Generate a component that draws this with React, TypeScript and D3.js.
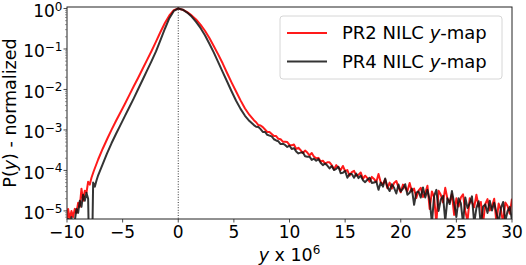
import { useEffect, useRef } from "react";
import * as d3 from "d3";

// tick values
const xTicks = [-10, -5, 0, 5, 10, 15, 20, 25, 30];
const yTickExps = [0, -1, -2, -3, -4, -5];

const seriesLabels = ["PR2 NILC", "PR4 NILC"];
const seriesColors = ["#ff1a1a", "#111111"];

// [y x 1e6, log10 P(y)]; -7 marks an empty bin
const pr2LogP: [number, number][] = [
  [-10.0, -5.3], [-9.9, -4.95], [-9.75, -5.2], [-9.6, -5.0], [-9.45, -5.15], [-9.3, -4.95],
  [-9.15, -5.05], [-9.0, -4.8], [-8.85, -4.9], [-8.7, -4.45], [-8.55, -4.75], [-8.4, -4.5],
  [-8.25, -4.55], [-8.1, -4.28], [-7.95, -4.35], [-7.8, -4.18], [-7.6, -4.02], [-7.2, -3.73],
  [-6.8, -3.47], [-6.4, -3.23], [-6.0, -3.0], [-5.6, -2.78], [-5.2, -2.57], [-4.8, -2.36],
  [-4.4, -2.14], [-4.0, -1.92], [-3.6, -1.71], [-3.2, -1.49], [-2.8, -1.27], [-2.4, -1.05],
  [-2.0, -0.82], [-1.6, -0.58], [-1.2, -0.36], [-0.8, -0.17], [-0.4, -0.04], [0, 0],
  [0.4, -0.03], [0.8, -0.09], [1.2, -0.17], [1.6, -0.27], [2.0, -0.4], [2.4, -0.55],
  [2.8, -0.73], [3.2, -0.93], [3.6, -1.14], [4.0, -1.36], [4.4, -1.6], [4.8, -1.83],
  [5.2, -2.05], [5.6, -2.27], [6.0, -2.47], [6.4, -2.63], [6.8, -2.76],
  [7.0, -2.81], [7.2, -2.88], [7.4, -2.89], [7.6, -2.93], [7.8, -2.99], [8.0, -3.05],
  [8.2, -3.05], [8.4, -3.1], [8.6, -3.15], [8.8, -3.15], [9.0, -3.22], [9.2, -3.23],
  [9.4, -3.29], [9.6, -3.29], [9.8, -3.3], [10.0, -3.37], [10.2, -3.38], [10.4, -3.36],
  [10.6, -3.47], [10.8, -3.44], [11.0, -3.5], [11.2, -3.57], [11.4, -3.51], [11.6, -3.56],
  [11.8, -3.63], [12.0, -3.57], [12.2, -3.66], [12.4, -3.7], [12.6, -3.69], [12.8, -3.78],
  [13.0, -3.76], [13.2, -3.83], [13.4, -3.8], [13.6, -3.8], [13.8, -3.87], [14.0, -3.97],
  [14.2, -3.87], [14.4, -3.93], [14.6, -3.99], [14.8, -3.89], [15.0, -4.02], [15.2, -3.99],
  [15.4, -4.13], [15.6, -4.04], [15.8, -4.01], [16.0, -4.13], [16.2, -4.11], [16.4, -4.05],
  [16.6, -4.21], [16.8, -4.13], [17.0, -4.19], [17.2, -4.28], [17.4, -4.16], [17.6, -4.21],
  [17.8, -4.29], [18.0, -4.09], [18.2, -4.29], [18.4, -4.34], [18.6, -4.22], [18.8, -4.44],
  [19.0, -4.3], [19.2, -4.45], [19.4, -4.31], [19.6, -4.26], [19.8, -4.42], [20.0, -4.54],
  [20.2, -4.35], [20.4, -4.43], [20.6, -4.51], [20.8, -4.31], [21.0, -4.52], [21.2, -4.45],
  [21.4, -4.68], [21.6, -4.5], [21.8, -4.43], [22.0, -4.66], [22.2, -4.56], [22.4, -4.38],
  [22.6, -4.95], [22.8, -4.52], [23.0, -4.66], [23.2, -5.3], [23.4, -4.5], [23.6, -4.6],
  [23.8, -4.79], [24.0, -4.43], [24.2, -4.71], [24.4, -4.78], [24.6, -4.59], [24.8, -5.1],
  [25.0, -4.69], [25.2, -4.89], [25.4, -4.67], [25.6, -4.59], [25.8, -5.0], [26.0, -5.25],
  [26.2, -4.69], [26.4, -4.79], [26.6, -4.91], [26.8, -4.6], [27.0, -4.89], [27.2, -4.78],
  [27.4, -5.3], [27.6, -4.83], [27.8, -4.71], [28.0, -4.99], [28.2, -4.89], [28.4, -4.7],
  [28.6, -5.3], [28.8, -4.82], [29.0, -4.96], [29.2, -5.3], [29.4, -4.79], [29.6, -4.88],
  [29.8, -5.07], [30.0, -4.7],
];

const pr4LogP: [number, number][] = [
  [-10.0, -7], [-9.9, -5.2], [-9.75, -7], [-9.6, -5.15], [-9.45, -7], [-9.3, -5.25],
  [-9.15, -4.95], [-9.0, -5.05], [-8.85, -4.75], [-8.7, -4.9], [-8.55, -4.6], [-8.4, -4.75],
  [-8.25, -4.55], [-8.1, -4.7], [-7.95, -7], [-7.8, -7], [-7.65, -4.3], [-7.5, -4.4],
  [-7.35, -4.25], [-7.2, -4.12], [-6.8, -3.85], [-6.4, -3.58], [-6.0, -3.33], [-5.6, -3.1],
  [-5.2, -2.88], [-4.8, -2.66], [-4.4, -2.44], [-4.0, -2.22], [-3.6, -1.99], [-3.2, -1.76],
  [-2.8, -1.53], [-2.4, -1.3], [-2.0, -1.06], [-1.6, -0.78], [-1.2, -0.5], [-0.8, -0.24],
  [-0.4, -0.06], [0, 0],
  [0.4, -0.03], [0.8, -0.1], [1.2, -0.2], [1.6, -0.33], [2.0, -0.48], [2.4, -0.66],
  [2.8, -0.87], [3.2, -1.09], [3.6, -1.33], [4.0, -1.57], [4.4, -1.81], [4.8, -2.05],
  [5.2, -2.28], [5.6, -2.48], [6.0, -2.65], [6.4, -2.78], [6.8, -2.88],
  [7.0, -2.92], [7.2, -2.93], [7.4, -2.98], [7.6, -3.05], [7.8, -3.05], [8.0, -3.12],
  [8.2, -3.14], [8.4, -3.16], [8.6, -3.23], [8.8, -3.26], [9.0, -3.28], [9.2, -3.35],
  [9.4, -3.34], [9.6, -3.37], [9.8, -3.42], [10.0, -3.39], [10.2, -3.47], [10.4, -3.45],
  [10.6, -3.53], [10.8, -3.58], [11.0, -3.56], [11.2, -3.55], [11.4, -3.65], [11.6, -3.66],
  [11.8, -3.66], [12.0, -3.74], [12.2, -3.71], [12.4, -3.76], [12.6, -3.72], [12.8, -3.81],
  [13.0, -3.87], [13.2, -3.83], [13.4, -3.88], [13.6, -3.95], [13.8, -3.89], [14.0, -3.99],
  [14.2, -3.96], [14.4, -3.91], [14.6, -4.07], [14.8, -4.06], [15.0, -4.01], [15.2, -4.18],
  [15.4, -4.09], [15.6, -4.09], [15.8, -4.18], [16.0, -4.08], [16.2, -4.19], [16.4, -4.13],
  [16.6, -4.24], [16.8, -4.29], [17.0, -4.23], [17.2, -4.18], [17.4, -4.31], [17.6, -4.3],
  [17.8, -4.27], [18.0, -4.48], [18.2, -4.3], [18.4, -4.4], [18.6, -4.2], [18.8, -4.41],
  [19.0, -4.51], [19.2, -4.34], [19.4, -4.43], [19.6, -4.57], [19.8, -4.35], [20.0, -4.52],
  [20.2, -4.45], [20.4, -4.34], [20.6, -4.6], [20.8, -4.55], [21.0, -4.45], [21.2, -4.85],
  [21.4, -4.55], [21.6, -4.52], [21.8, -4.67], [22.0, -4.42], [22.2, -4.67], [22.4, -4.48],
  [22.6, -4.73], [22.8, -5.3], [23.0, -4.63], [23.2, -4.48], [23.4, -5.0], [23.6, -4.72],
  [23.8, -4.63], [24.0, -5.25], [24.2, -4.69], [24.4, -4.83], [24.6, -4.51], [24.8, -4.81],
  [25.0, -5.15], [25.2, -4.69], [25.4, -4.81], [25.6, -5.3], [25.8, -4.67], [26.0, -4.93],
  [26.2, -4.81], [26.4, -4.64], [26.6, -5.3], [26.8, -4.93], [27.0, -4.76], [27.2, -5.35],
  [27.4, -4.89], [27.6, -4.84], [27.8, -5.05], [28.0, -4.75], [28.2, -4.99], [28.4, -4.8],
  [28.6, -5.04], [28.8, -5.3], [29.0, -4.93], [29.2, -4.78], [29.4, -5.25], [29.6, -5.01],
  [29.8, -4.9], [30.0, -5.23],
];

const FONT = "'DejaVu Sans', Verdana, sans-serif";

export default function App() {
  const svgRef = useRef<SVGSVGElement>(null);

  useEffect(() => {
    if (!svgRef.current) return;
    const svg = d3.select(svgRef.current);
    svg.selectAll("*").remove();

    const width = 526;
    const height = 265;
    const margin = { top: 7, right: 14, bottom: 46, left: 67 };
    const plotW = width - margin.left - margin.right;
    const plotH = height - margin.top - margin.bottom;

    const x = d3.scaleLinear().domain([-10, 30]).range([margin.left, width - margin.right]);
    const y = d3.scaleLog()
      .domain([Math.pow(10, -5.2), Math.pow(10, 0.037)])
      .range([height - margin.bottom, margin.top]);

    svg.style("font-family", FONT);

    svg.append("defs").append("clipPath").attr("id", "plot-clip")
      .append("rect")
      .attr("x", margin.left).attr("y", margin.top)
      .attr("width", plotW).attr("height", plotH);

    // zero marker
    svg.append("line")
      .attr("x1", x(0)).attr("x2", x(0))
      .attr("y1", margin.top).attr("y2", height - margin.bottom)
      .attr("stroke", "#000").attr("stroke-width", 0.8)
      .attr("stroke-dasharray", "1,1.6");

    const line = d3.line<[number, number]>()
      .x(d => x(d[0]))
      .y(d => y(Math.pow(10, d[1])));

    const curves = svg.append("g").attr("clip-path", "url(#plot-clip)");
    [pr2LogP, pr4LogP].forEach((series, i) => {
      curves.append("path")
        .attr("d", line(series) as string)
        .attr("fill", "none")
        .attr("stroke", seriesColors[i])
        .attr("stroke-opacity", i === 1 ? 0.85 : 1)
        .attr("stroke-width", 2)
        .attr("stroke-linejoin", "round");
    });

    // frame
    svg.append("rect")
      .attr("x", margin.left).attr("y", margin.top)
      .attr("width", plotW).attr("height", plotH)
      .attr("fill", "none").attr("stroke", "#222").attr("stroke-width", 1);

    // x ticks
    const xAxis = svg.append("g");
    xTicks.forEach(t => {
      xAxis.append("line")
        .attr("x1", x(t)).attr("x2", x(t))
        .attr("y1", height - margin.bottom).attr("y2", height - margin.bottom + 3.5)
        .attr("stroke", "#222").attr("stroke-width", 0.8);
      xAxis.append("text")
        .attr("x", x(t)).attr("y", height - margin.bottom + 18.5)
        .attr("text-anchor", "middle")
        .style("font-size", "17px")
        .text(t < 0 ? `\u2212${Math.abs(t)}` : `${t}`);
    });

    // y ticks (major + minor)
    const yAxis = svg.append("g");
    yTickExps.forEach(e => {
      const yy = y(Math.pow(10, e));
      yAxis.append("line")
        .attr("x1", margin.left - 3.5).attr("x2", margin.left)
        .attr("y1", yy).attr("y2", yy)
        .attr("stroke", "#222").attr("stroke-width", 0.8);
      const label = yAxis.append("text")
        .attr("x", margin.left - 4.5).attr("y", yy + 8.5)
        .attr("text-anchor", "end")
        .style("font-size", "17px");
      label.append("tspan").text("10");
      label.append("tspan")
        .attr("dy", -6.5)
        .style("font-size", "12px")
        .text(e < 0 ? `\u2212${Math.abs(e)}` : `${e}`);
    });
    for (let e = -6; e <= 0; e++) {
      for (let k = 2; k <= 9; k++) {
        const v = k * Math.pow(10, e);
        const yy = y(v);
        if (yy < margin.top || yy > height - margin.bottom) continue;
        yAxis.append("line")
          .attr("x1", margin.left - 2).attr("x2", margin.left)
          .attr("y1", yy).attr("y2", yy)
          .attr("stroke", "#555").attr("stroke-width", 0.6);
      }
    }

    // axis titles
    const xTitle = svg.append("text")
      .attr("x", margin.left + plotW / 2).attr("y", 261)
      .attr("text-anchor", "middle")
      .style("font-size", "17.5px");
    xTitle.append("tspan").style("font-style", "italic").text("y");
    xTitle.append("tspan").text(" x 10");
    xTitle.append("tspan").attr("dy", -7.5).style("font-size", "12px").text("6");

    const yTitle = svg.append("text")
      .attr("transform", `translate(16, ${margin.top + plotH / 2}) rotate(-90)`)
      .attr("text-anchor", "middle")
      .style("font-size", "17.5px");
    yTitle.append("tspan").text("P(");
    yTitle.append("tspan").style("font-style", "italic").text("y");
    yTitle.append("tspan").text(") - normalized");

    // legend
    const legend = svg.append("g");
    legend.append("rect")
      .attr("x", 280).attr("y", 16)
      .attr("width", 222).attr("height", 63)
      .attr("rx", 3)
      .attr("fill", "#fff").attr("fill-opacity", 0.8)
      .attr("stroke", "#d6d6d6").attr("stroke-width", 1);
    seriesLabels.forEach((name, i) => {
      const ly = 33 + i * 28.5;
      legend.append("line")
        .attr("x1", 287).attr("x2", 327)
        .attr("y1", ly).attr("y2", ly)
        .attr("stroke", seriesColors[i])
        .attr("stroke-opacity", i === 1 ? 0.85 : 1)
        .attr("stroke-width", 2);
      const t = legend.append("text")
        .attr("x", 342).attr("y", ly + 6)
        .style("font-size", "18px");
      t.append("tspan").text(`${name} `);
      t.append("tspan").style("font-style", "italic").text("y");
      t.append("tspan").text("-map");
    });
  }, []);

  return (
    <svg
      ref={svgRef}
      width={526}
      height={265}
      style={{ position: "absolute", left: 0, top: 0, background: "#fff" }}
    />
  );
}
